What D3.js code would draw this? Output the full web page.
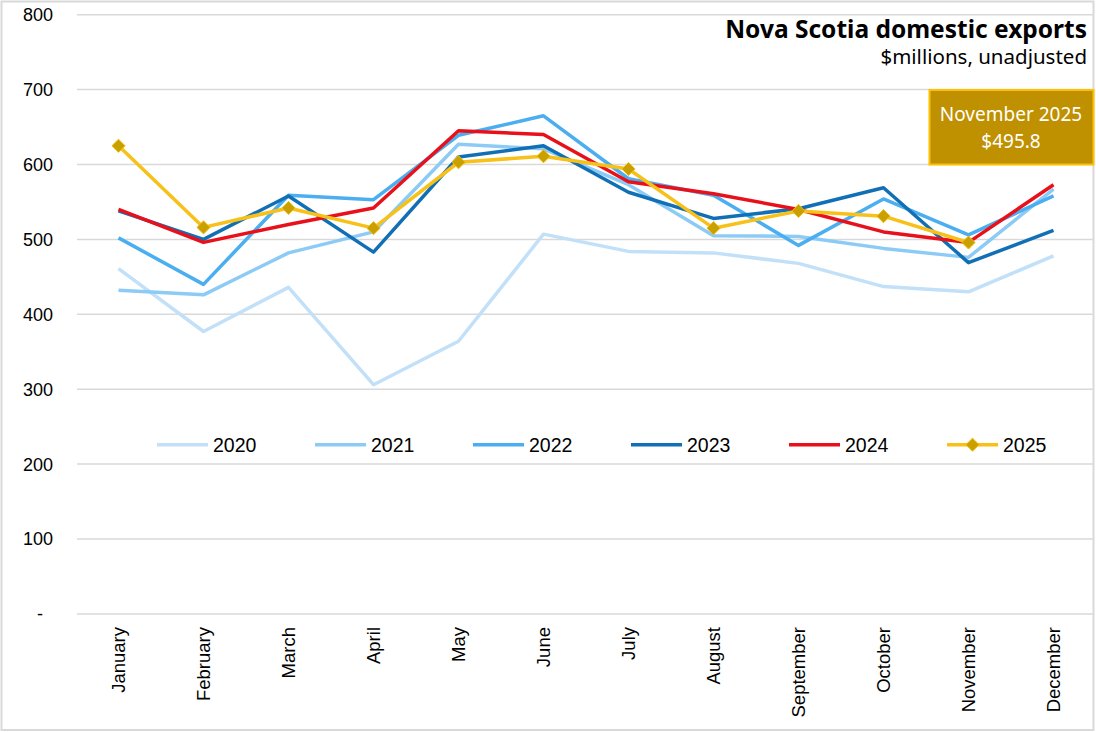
<!DOCTYPE html>
<html>
<head>
<meta charset="utf-8">
<script src="https://cdn.jsdelivr.net/npm/d3@7"></script>
<style>
  html, body { margin: 0; padding: 0; background: #fff; }
  svg { display: block; }
</style>
</head>
<body>
<svg id="chart" width="1096" height="732"></svg>
<script>
const months = ["January","February","March","April","May","June","July","August","September","October","November","December"];
const years = ["2020","2021","2022","2023","2024","2025"];
const v2020 = [461, 377, 436, 306, 364, 507, 484, 482, 468, 437, 430, 478];
const v2021 = [432, 426, 482, 510, 627, 621, 573, 505, 504, 488, 476, 567];
const v2022 = [502, 440, 559, 553, 639, 665, 581, 559, 492, 554, 506, 558];
const v2023 = [538, 500, 558, 483, 610, 625, 563, 528, 541, 569, 469, 512];
const v2024 = [540, 496, 520, 542, 645, 640, 577, 561, 540, 510, 496, 573];
const v2025 = [625, 516, 542, 515, 603, 611, 594, 515, 538, 531, 495.8, null];
const yTicks = [0, 100, 200, 300, 400, 500, 600, 700, 800];
const colors = ["#c2e0f8", "#8ccbf5", "#4aaef0", "#1170b5", "#e8101a", "#f7c11a"];
const titleText = "Nova Scotia domestic exports";
const subtitleText = "$millions, unadjusted";
const calloutLines = ["November 2025", "$495.8"];

const seriesValues = [v2020, v2021, v2022, v2023, v2024, v2025];
const series = years.map((y, i) => ({ year: y, values: seriesValues[i], color: colors[i] }));

const svg = d3.select("#chart");

// border
svg.append("rect").attr("x", 1.5).attr("y", 1.5).attr("width", 1092).attr("height", 728.5)
  .attr("fill", "#fff").attr("stroke", "#d9d9d9").attr("stroke-width", 2);

const x = d3.scalePoint().domain(months).range([76, 1096]).padding(0.5);
const y = d3.scaleLinear().domain([0, 800]).range([613.9, 14.7]);

// gridlines
svg.append("g").selectAll("line").data(yTicks).join("line")
  .attr("x1", 77).attr("x2", 1093)
  .attr("y1", d => y(d)).attr("y2", d => y(d))
  .attr("stroke", "#d9d9d9").attr("stroke-width", 1.5);

// y labels
svg.append("g").selectAll("text").data(yTicks).join("text")
  .attr("x", d => d === 0 ? 43 : 53)
  .attr("y", d => y(d))
  .attr("dy", "0.36em")
  .attr("text-anchor", "end")
  .attr("font-family", "Liberation Sans, Arial, sans-serif")
  .attr("font-size", 18)
  .attr("fill", "#000")
  .text(d => d === 0 ? "-" : d3.format("d")(d));

// x labels
svg.append("g").selectAll("text").data(months).join("text")
  .attr("transform", d => `translate(${x(d) + 6.5},627) rotate(-90)`)
  .attr("text-anchor", "end")
  .attr("font-family", "Liberation Sans, Arial, sans-serif")
  .attr("font-size", 18.5)
  .attr("fill", "#000")
  .text(d => d);

// lines
const line = d3.line()
  .defined(d => d.v != null)
  .x(d => x(d.m))
  .y(d => y(d.v));

svg.append("g").selectAll("path").data(series).join("path")
  .attr("d", s => line(s.values.map((v, i) => ({ m: months[i], v }))))
  .attr("fill", "none")
  .attr("stroke", s => s.color)
  .attr("stroke-width", 3.5)
  .attr("stroke-linejoin", "round");

// 2025 markers
const s25 = series[5];
svg.append("g").selectAll("path").data(s25.values.map((v, i) => ({ m: months[i], v })).filter(d => d.v != null))
  .join("path")
  .attr("d", d3.symbol().type(d3.symbolDiamond2).size(110))
  .attr("transform", d => `translate(${x(d.m)},${y(d.v)})`)
  .attr("fill", "#c9a000")
  .attr("stroke", "#f2bd10")
  .attr("stroke-width", 1);

// legend
const legendX0 = 157, legendStep = 158, legendY = 444.7;
const lg = svg.append("g").selectAll("g").data(series).join("g")
  .attr("transform", (d, i) => `translate(${legendX0 + i * legendStep},${legendY})`);
lg.append("line").attr("x1", 0).attr("x2", 51).attr("y1", 0).attr("y2", 0)
  .attr("stroke", d => d.color).attr("stroke-width", 3.5);
lg.filter(d => d.year === "2025").append("path")
  .attr("d", d3.symbol().type(d3.symbolDiamond2).size(110))
  .attr("transform", "translate(25.5,0)")
  .attr("fill", "#c9a000").attr("stroke", "#f2bd10").attr("stroke-width", 1);
lg.append("text").attr("x", 56).attr("y", 0).attr("dy", "0.36em")
  .attr("font-family", "Liberation Sans, Arial, sans-serif")
  .attr("font-size", 19.5).attr("fill", "#000")
  .text(d => d.year);

// title
svg.append("text").attr("x", 1087).attr("y", 37.5).attr("text-anchor", "end")
  .attr("font-family", "Noto Sans, sans-serif").attr("font-weight", "bold")
  .attr("font-size", 24.5).attr("fill", "#000").text(titleText);
svg.append("text").attr("x", 1087).attr("y", 64).attr("text-anchor", "end")
  .attr("font-family", "Noto Sans, sans-serif")
  .attr("font-size", 20.5).attr("fill", "#000").text(subtitleText);

// callout
svg.append("rect").attr("x", 929.5).attr("y", 90).attr("width", 164).attr("height", 74.5)
  .attr("fill", "#bf9000").attr("stroke", "#ffc000").attr("stroke-width", 2);
svg.append("g").selectAll("text").data(calloutLines).join("text")
  .attr("x", 1011).attr("y", (d, i) => 120.5 + i * 27.5)
  .attr("text-anchor", "middle")
  .attr("font-family", "Noto Sans, sans-serif")
  .attr("font-size", 19).attr("fill", "#fff")
  .text(d => d);
</script>
</body>
</html>
